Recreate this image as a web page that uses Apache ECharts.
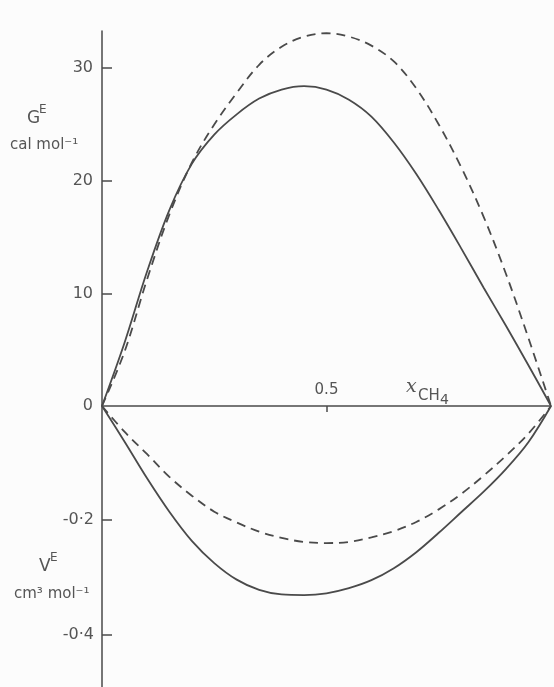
<!DOCTYPE html>
<html>
<head>
<meta charset="utf-8">
<script src="https://cdn.jsdelivr.net/npm/echarts@6/dist/echarts.min.js"></script>
<style>
  html, body { margin: 0; padding: 0; background: #fcfcfc; }
  #chart { width: 554px; height: 687px; }
</style>
</head>
<body>
<div id="chart"></div>
<script>
// Mole fraction of methane, shared by all four curves
const xCH4 = [0, 0.05, 0.10, 0.15, 0.20, 0.25, 0.30, 0.35, 0.40, 0.45, 0.50,
              0.55, 0.60, 0.65, 0.70, 0.75, 0.80, 0.85, 0.90, 0.95, 1.0];

// Excess Gibbs energy, cal/mol
const gSolid  = [0, 5.6, 11.9, 17.4, 21.5, 24.1, 25.9, 27.3, 28.1, 28.4, 28.1,
                 27.2, 25.7, 23.4, 20.6, 17.4, 14.0, 10.5, 7.1, 3.6, 0];
const gDashed = [0, 4.8, 11.2, 17.0, 21.6, 25.0, 27.8, 30.3, 31.9, 32.8, 33.1,
                 32.8, 32.0, 30.6, 28.2, 25.0, 21.2, 16.8, 11.7, 6.0, 0];

// Excess volume, cm3/mol
const vSolid  = [0, -0.062, -0.126, -0.185, -0.236, -0.275, -0.304, -0.322, -0.330, -0.331, -0.328,
                 -0.319, -0.305, -0.284, -0.256, -0.222, -0.186, -0.150, -0.110, -0.063, 0];
const vDashed = [0, -0.045, -0.084, -0.124, -0.157, -0.185, -0.204, -0.220, -0.231, -0.238, -0.240,
                 -0.238, -0.230, -0.219, -0.203, -0.181, -0.154, -0.122, -0.087, -0.048, 0];

// Axis ticks
const gTicks = [0, 10, 20, 30];
const vTicks = [-0.2, -0.4];
const xTicks = [0.5];

const pairs = (xs, ys) => xs.map((x, i) => [x, ys[i]]);

const INK = '#4a4a4a';
const TEXT = '#555';
const FONT = 'DejaVu Sans';

const chart = echarts.init(document.getElementById('chart'), null, { renderer: 'canvas' });

const txt = (x, y, text, size, extra) => ({
  type: 'text', x: x, y: y, silent: true,
  style: Object.assign({ text: text, fontSize: size, fontFamily: FONT, fill: TEXT,
    align: 'left', verticalAlign: 'middle' }, extra || {})
});

const curve = (xi, yi, ys, dashed) => ({
  type: 'line', xAxisIndex: xi, yAxisIndex: yi, data: pairs(xCH4, ys), smooth: 0.35,
  showSymbol: false,
  lineStyle: { color: INK, width: 1.8, type: dashed ? [9, 6] : 'solid' }
});

chart.setOption({
  backgroundColor: '#fcfcfc',
  animation: false,
  grid: [
    { left: 102, width: 449, top: 31, height: 375 },
    { left: 102, width: 449, top: 406, height: 281 }
  ],
  xAxis: [
    {
      gridIndex: 0, type: 'value', min: 0, max: 1, position: 'bottom',
      axisLine: { show: true, onZero: false, lineStyle: { color: INK, width: 1.5 } },
      axisTick: { show: true, customValues: xTicks, length: 6, lineStyle: { color: INK, width: 1.5 } },
      axisLabel: { show: true, customValues: xTicks, inside: true, margin: 8,
        fontSize: 15, fontFamily: FONT, color: TEXT, formatter: v => String(v) },
      splitLine: { show: false }
    },
    { gridIndex: 1, type: 'value', min: 0, max: 1, show: false }
  ],
  yAxis: [
    {
      gridIndex: 0, type: 'value', min: 0, max: 33.3,
      axisLine: { show: true, onZero: false, lineStyle: { color: INK, width: 1.5 } },
      axisTick: { show: true, inside: true, length: 10, customValues: gTicks.slice(1), lineStyle: { color: INK, width: 1.5 } },
      axisLabel: { show: true, customValues: gTicks, margin: 9, fontSize: 16, fontFamily: FONT, color: TEXT },
      splitLine: { show: false }
    },
    {
      gridIndex: 1, type: 'value', min: -0.492, max: 0,
      axisLine: { show: true, onZero: false, lineStyle: { color: INK, width: 1.5 } },
      axisTick: { show: true, inside: true, length: 10, customValues: vTicks, lineStyle: { color: INK, width: 1.5 } },
      axisLabel: { show: true, customValues: vTicks, margin: 8, fontSize: 16, fontFamily: FONT, color: TEXT,
        formatter: v => v.toFixed(1).replace('.', '\u00b7') },
      splitLine: { show: false }
    }
  ],
  series: [
    curve(0, 0, gSolid, false),
    curve(0, 0, gDashed, true),
    curve(1, 1, vSolid, false),
    curve(1, 1, vDashed, true)
  ],
  graphic: [
    txt(27, 119, 'G', 17),
    txt(39, 110, 'E', 12),
    txt(10, 145, 'cal mol\u207b\u00b9', 15),
    txt(39, 567, 'V', 17),
    txt(50, 558, 'E', 12),
    txt(14, 594, 'cm\u00b3 mol\u207b\u00b9', 15),
    txt(406, 387, 'x', 19, { fontFamily: 'DejaVu Serif', fontStyle: 'italic' }),
    txt(418, 396, 'CH', 15),
    txt(440, 400, '4', 14)
  ]
});
</script>
</body>
</html>
